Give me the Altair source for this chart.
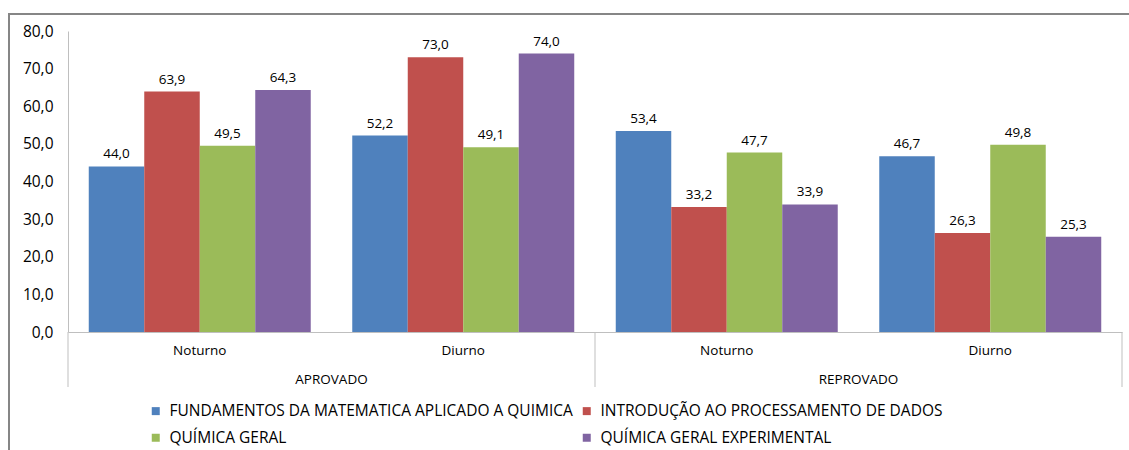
import altair as alt
import pandas as pd

groups = ["APROVADO", "APROVADO", "REPROVADO", "REPROVADO"]
periods = ["Noturno", "Diurno", "Noturno", "Diurno"]
series = [
    "FUNDAMENTOS DA MATEMATICA APLICADO A QUIMICA",
    "INTRODUÇÃO AO PROCESSAMENTO DE DADOS",
    "QUÍMICA GERAL",
    "QUÍMICA GERAL EXPERIMENTAL",
]
colors = ["#4F81BD", "#C0504D", "#9BBB59", "#8064A2"]
fundamentos = [44.0, 52.2, 53.4, 46.7]
introducao = [63.9, 73.0, 33.2, 26.3]
quimica = [49.5, 49.1, 47.7, 49.8]
experimental = [64.3, 74.0, 33.9, 25.3]
y_ticks = [0, 10, 20, 30, 40, 50, 60, 70, 80]

keys = [f"{g}|{p}" for g, p in zip(groups, periods)]
values_by_series = [fundamentos, introducao, quimica, experimental]
rows = []
for s, vals in zip(series, values_by_series):
    for k, v in zip(keys, vals):
        rows.append({"key": k, "serie": s, "valor": v})
df = pd.DataFrame(rows)

FONT = "Open Sans"
W, H = 1054, 301

x_scale = alt.Scale(paddingInner=0, paddingOuter=0)
x_axis = alt.Axis(title=None, labelExpr="split(datum.label, '|')[1]",
                  labelAngle=0, ticks=False, domainColor="#BFBFBF",
                  labelPadding=11, labelFontSize=13.5, labelFont=FONT,
                  labelColor="#000000", grid=False)
xoff_scale = alt.Scale(paddingOuter=0.374, paddingInner=0)
y_scale = alt.Scale(domain=[0, 80], nice=False)
y_axis = alt.Axis(title=None, values=y_ticks, grid=False, ticks=False,
                  labelOverlap=False,
                  labelExpr="replace(format(datum.value, '.1f'), '.', ',')",
                  domainColor="#BFBFBF", labelPadding=15, labelFontSize=15.5,
                  labelFont=FONT, labelColor="#000000")

base = alt.Chart(df)
bars = base.mark_bar(stroke=None).encode(
    x=alt.X("key:N", sort=keys, scale=x_scale, axis=x_axis),
    xOffset=alt.XOffset("serie:N", sort=series, scale=xoff_scale),
    y=alt.Y("valor:Q", scale=y_scale, axis=y_axis),
    color=alt.Color("serie:N", sort=series,
                    scale=alt.Scale(domain=series, range=colors),
                    legend=alt.Legend(title=None, orient="none", legendX=80, legendY=372,
                                      columns=2, columnPadding=6, rowPadding=10,
                                      symbolType="square", symbolSize=64,
                                      symbolStrokeWidth=0, labelFontSize=15.5,
                                      labelFont=FONT, labelColor="#000000",
                                      labelLimit=600, labelOffset=6,
                                      direction="horizontal")),
)
labels = base.transform_calculate(
    lbl="replace(format(datum.valor, '.1f'), '.', ',')"
).mark_text(baseline="bottom", dy=-5, fontSize=13.5, font=FONT, color="#000000").encode(
    x=alt.X("key:N", sort=keys, scale=x_scale, axis=x_axis),
    xOffset=alt.XOffset("serie:N", sort=series, scale=xoff_scale),
    y=alt.Y("valor:Q", scale=y_scale, axis=y_axis), text="lbl:N",
)

edge_left = pd.DataFrame({"key": [keys[0], keys[2]]})
edge_right = pd.DataFrame({"key": [keys[3]]})
rule_l = alt.Chart(edge_left).mark_rule(color="#BFBFBF", strokeWidth=1).encode(
    x=alt.X("key:N", sort=keys, bandPosition=0, scale=x_scale, axis=x_axis),
    y=alt.value(H), y2=alt.value(H + 55))
rule_r = alt.Chart(edge_right).mark_rule(color="#BFBFBF", strokeWidth=1).encode(
    x=alt.X("key:N", sort=keys, bandPosition=1, scale=x_scale, axis=x_axis),
    y=alt.value(H), y2=alt.value(H + 55))

grp = pd.DataFrame({"key": [keys[1], keys[3]], "grupo": [groups[0], groups[2]]})
grp_text = alt.Chart(grp).mark_text(fontSize=13.5, font=FONT, color="#000000",
                                    baseline="middle").encode(
    x=alt.X("key:N", sort=keys, bandPosition=0, scale=x_scale, axis=x_axis),
    y=alt.value(H + 48), text="grupo:N")

frame = alt.Chart(pd.DataFrame({"a": [0]})).mark_rect(
    fill=None, stroke="#868686", strokeWidth=2).encode(
    x=alt.value(-59), x2=alt.value(W + 40), y=alt.value(-17), y2=alt.value(H + 160))

chart = alt.layer(frame, bars, labels, rule_l, rule_r, grp_text).properties(
    width=W, height=H, background="#FFFFFF",
    padding={"left": 68, "top": 31, "right": 7, "bottom": 118},
    autosize=alt.AutoSizeParams(type="none"),
).configure_view(stroke="transparent", strokeWidth=0)

chart.save("out.html", embed_options={"renderer": "svg", "actions": False})
